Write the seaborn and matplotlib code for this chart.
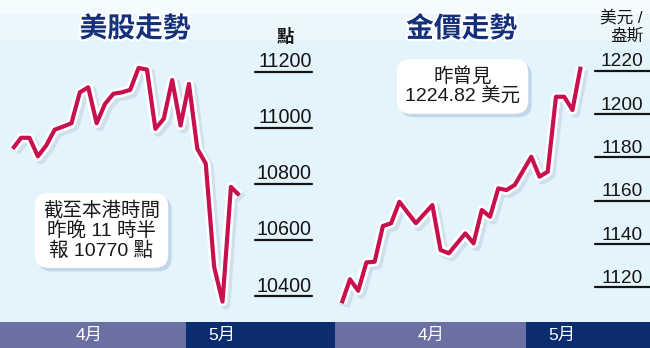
import matplotlib
matplotlib.use("Agg")
import matplotlib.pyplot as plt
import matplotlib.patheffects as pe
import matplotlib.transforms as mtransforms
from matplotlib.patches import Rectangle
import seaborn as sns

# ---------------- data ----------------
dow_day = list(range(28))
dow_values = [10925, 10964, 10964, 10898, 10937, 10993, 11004, 11016, 11126, 11144,
              11016, 11085, 11121, 11126, 11135, 11213, 11207, 10996, 11032, 11170,
              11008, 11156, 10925, 10872, 10504, 10380, 10789, 10759]
dow_ticks = [10400, 10600, 10800, 11000, 11200]
dow_ticklabels = ["10400", "10600", "10800", "11000", "11200"]

gold_day = [0, 1, 2, 3, 4, 5, 6, 7, 9, 11, 12, 13, 15, 16, 17, 18, 19, 20, 21,
            23, 24, 25, 26, 27, 28, 29]
gold_values = [1112.6, 1123.7, 1118.4, 1131.5, 1131.8, 1148.3, 1149.6, 1159.5, 1149.6,
               1158.0, 1137.2, 1135.7, 1144.9, 1140.3, 1155.7, 1152.6, 1165.7, 1164.9,
               1167.3, 1180.3, 1171.1, 1173.4, 1208.0, 1208.0, 1201.9, 1221.9]
gold_ticks = [1120, 1140, 1160, 1180, 1200, 1220]
gold_ticklabels = ["1120", "1140", "1160", "1180", "1200", "1220"]

# month bands (edges in day units)
dow_month_edges = [20.6]            # April | May
gold_month_edges = [-0.8, 22.4]     # (March) | April | May
month_labels = ["4月", "5月"]

titles = ["美股走勢", "金價走勢"]
dow_unit = "點"
gold_unit = "美元 /\n盎斯"
dow_note = "截至本港時間\n昨晚 11 時半\n報 10770 點"
gold_note = "昨曾見\n1224.82 美元"

# ---------------- style ----------------
sns.set_theme(style="white")
plt.rcParams["font.family"] = ["Liberation Sans", "Noto Sans CJK TC", "DejaVu Sans"]

W, H = 650, 348
fig = plt.figure(figsize=(W / 100, H / 100), dpi=100)
fig.patch.set_facecolor("#e4f4fc")

# background axes (behind everything)
bg = fig.add_axes([0, 0, 1, 1], zorder=-10)
bg.set_xlim(0, W)
bg.set_ylim(H, 0)
bg.set_axis_off()
bg.add_patch(Rectangle((0, 0), W, 14, facecolor="#f4fcff", edgecolor="none"))
bg.add_patch(Rectangle((0, 14), W, 26, facecolor="#ebf7fd", edgecolor="none"))

LINE = "#c8104e"
NAVY = "#0b2c6e"
LIGHT = "#6b70a3"

line_fx = [pe.Stroke(offset=(2.2, -2.2), linewidth=7, foreground="#a9bdd1", alpha=0.35),
           pe.Stroke(linewidth=6.8, foreground="white"), pe.Normal()]

bar_h = 26
plot_h = H - bar_h

ax1 = fig.add_axes([0, bar_h / H, 325 / W, plot_h / H])
ax2 = fig.add_axes([325 / W, bar_h / H, 325 / W, plot_h / H])
bx1 = fig.add_axes([0, 0, 325 / W, bar_h / H], sharex=ax1)
bx2 = fig.add_axes([325 / W, 0, 325 / W, bar_h / H], sharex=ax2)

for ax, xs, ys in [(ax1, dow_day, dow_values), (ax2, gold_day, gold_values)]:
    sns.lineplot(x=xs, y=ys, ax=ax, color=LINE, linewidth=3.0, sort=False)
    ln = ax.get_lines()[-1]
    ln.set_path_effects(line_fx)
    ln.set_solid_joinstyle("round")
    ln.set_solid_capstyle("butt")
    ax.set_facecolor("none")
    ax.set_axis_off()

# axis limits (pixel calibration)
ax1.set_xlim(-1.513, 37.21)
ax1.set_ylim(10307.3, 11455.3)
ax2.set_xlim(-2.026, 37.41)
ax2.set_ylim(1103.97, 1252.7)

# tick labels with underlines
def draw_ticks(ax, ticks, labels, x0, x1, xr, fs):
    trans = mtransforms.blended_transform_factory(ax.transAxes, ax.transData)
    ttrans = mtransforms.offset_copy(trans, fig=fig, y=3.2, units="points")
    for v, lab in zip(ticks, labels):
        ax.axhline(v, xmin=x0, xmax=x1, color="#151515", lw=1.6, zorder=3)
        ax.text(xr, v, lab, transform=ttrans, ha="right", va="baseline",
                fontsize=fs, color="#151515", zorder=3)

draw_ticks(ax1, dow_ticks, dow_ticklabels, 255 / 325, 312 / 325, 312 / 325, 14.2)
draw_ticks(ax2, gold_ticks, gold_ticklabels, 270 / 325, 1.0, 318 / 325, 13.8)

# units
ax1.text(285 / 325, (plot_h - 37) / plot_h, dow_unit, transform=ax1.transAxes,
         ha="center", va="center", fontsize=12.5, color="#151515", fontweight="bold")
ax2.text(318 / 325, (plot_h - 27) / plot_h, gold_unit, transform=ax2.transAxes,
         ha="right", va="center", fontsize=12, color="#151515", linespacing=1.2,
         multialignment="right")

# titles
for ax, t, cx in [(ax1, titles[0], 135 / 325), (ax2, titles[1], 136.5 / 325)]:
    ax.text(cx, (plot_h - 29) / plot_h, t, transform=ax.transAxes, ha="center",
            va="center", fontsize=20, fontweight="black", color="#15307a",
            family=["Noto Sans CJK TC"],
            path_effects=[pe.withStroke(linewidth=3, foreground="white")])

# notes
def note(ax, cx, cy, txt):
    t = ax.text(cx, cy, txt, transform=ax.transAxes, ha="center", va="center",
                fontsize=14, color="#1a1a1a", linespacing=1.08,
                bbox=dict(boxstyle="round,pad=0.42,rounding_size=0.7",
                          facecolor="white", edgecolor="none"), zorder=5)
    t.get_bbox_patch().set_path_effects(
        [pe.SimplePatchShadow(offset=(2.5, -2.5), shadow_rgbFace="#bcd0e6", alpha=0.8),
         pe.Normal()])

note(ax1, 101.5 / 325, (plot_h - 230.5) / plot_h, dow_note)
note(ax2, 137.5 / 325, (plot_h - 86.5) / plot_h, gold_note)

# month bars
def month_bar(bx, ax, edges, colors, label_pos):
    x0, x1 = ax.get_xlim()
    pts = [x0] + edges + [x1]
    for i in range(len(pts) - 1):
        bx.axvspan(pts[i], pts[i + 1], color=colors[i], lw=0)
    for xp, lab in label_pos:
        bx.text(xp, 0.5, lab, ha="center", va="center", color="white",
                fontsize=12.5, transform=mtransforms.blended_transform_factory(
                    bx.transData, bx.transAxes))
    bx.set_ylim(0, 1)
    bx.set_axis_off()

px1 = 8.393  # px per day, left
px2 = 8.241  # px per day, right
month_bar(bx1, ax1, dow_month_edges, [LIGHT, NAVY],
          [((-1.513 + dow_month_edges[0]) / 2 - 0.4, month_labels[0]),
           (dow_month_edges[0] + 36 / px1, month_labels[1])])
month_bar(bx2, ax2, gold_month_edges, [NAVY, LIGHT, NAVY],
          [((gold_month_edges[0] + gold_month_edges[1]) / 2, month_labels[0]),
           (gold_month_edges[1] + 36 / px2, month_labels[1])])
ax1.set_xlim(-1.513, 37.21)
ax2.set_xlim(-2.026, 37.41)

fig.savefig("out.png", dpi=100, facecolor=fig.get_facecolor())
